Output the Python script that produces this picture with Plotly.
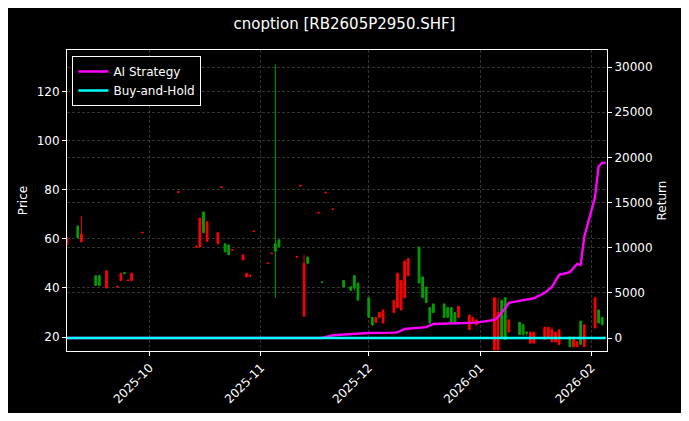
import plotly.graph_objects as go

# candles (date, open, high, low, close)
dates = ["2025-09-08", "2025-09-11", "2025-09-12", "2025-09-16", "2025-09-17", "2025-09-19",
         "2025-09-22", "2025-09-23", "2025-09-24", "2025-09-25", "2025-09-26", "2025-09-29",
         "2025-10-09", "2025-10-14", "2025-10-15", "2025-10-16", "2025-10-17", "2025-10-20",
         "2025-10-21", "2025-10-22", "2025-10-23", "2025-10-24", "2025-10-27", "2025-10-28",
         "2025-10-29", "2025-10-30", "2025-11-03", "2025-11-04", "2025-11-05", "2025-11-06",
         "2025-11-11", "2025-11-12", "2025-11-13", "2025-11-14", "2025-11-17", "2025-11-18",
         "2025-11-19", "2025-11-21", "2025-11-24", "2025-11-26", "2025-11-27", "2025-11-28",
         "2025-12-01", "2025-12-02", "2025-12-03", "2025-12-04", "2025-12-05", "2025-12-08",
         "2025-12-09", "2025-12-10", "2025-12-11", "2025-12-12", "2025-12-15", "2025-12-16",
         "2025-12-17", "2025-12-18", "2025-12-19", "2025-12-22", "2025-12-23", "2025-12-24",
         "2025-12-25", "2025-12-26", "2025-12-29", "2025-12-30", "2025-12-31", "2026-01-05",
         "2026-01-06", "2026-01-07", "2026-01-08", "2026-01-09", "2026-01-12", "2026-01-13",
         "2026-01-14", "2026-01-15", "2026-01-16", "2026-01-19", "2026-01-20", "2026-01-21",
         "2026-01-22", "2026-01-23", "2026-01-26", "2026-01-27", "2026-01-28", "2026-01-29",
         "2026-01-30", "2026-02-02", "2026-02-03", "2026-02-04"]
opens = [60.4, 60.4, 62, 41, 41, 47, 40.6, 46, 45.8, 43.2, 46, 62.7,
         79.2, 57, 68.5, 62.5, 67, 62.5, 81.2, 54.7, 53.5, 55.6, 53.5, 46,
         45.2, 63.2, 50.2, 54.2, 55, 56.7, 52.8, 81.8, 50, 50, 70.8, 42.2,
         79, 72.2, 40.4, 39, 40, 35, 28, 25, 28, 30, 31, 35,
         46, 43, 51, 52, 42, 36, 34, 25.7, 30, 28, 28, 26,
         26, 32.5, 29, 28, 27, 36, 30, 20, 19, 27, 21, 21,
         21.5, 22, 22, 24, 24, 23, 22, 23, 16, 20, 18, 17,
         25, 36, 25.7, 25]
highs = [60.6, 65.3, 69.4, 45, 45, 47, 40.8, 46, 46.3, 43.5, 46, 62.9,
         79.4, 57.2, 68.5, 71, 67, 62.5, 81.4, 58, 57.5, 55.8, 53.5, 46,
         45.4, 63.4, 50.4, 54.4, 131, 59.6, 53, 82, 53.5, 52.6, 71, 42.6,
         79.2, 72.4, 43, 40.5, 45, 42, 36, 28, 28, 30, 31, 35,
         46, 43, 51, 52, 56.7, 44.5, 40.4, 32, 33.5, 33.5, 32, 32,
         30, 32.5, 29, 28, 27, 36, 36, 35, 36, 27, 26, 25,
         22, 22, 22, 24, 24, 24, 22, 23, 20, 19, 18.5, 26.5,
         25, 36, 31, 28]
lows = [57.5, 60.4, 58.8, 41, 41, 40, 40.2, 43, 45.8, 43, 43, 62.5,
        79, 56.7, 56.7, 62.5, 59, 58, 81, 54.7, 53.5, 55.4, 51.4, 44.5,
        44.8, 63, 50, 54, 36, 56.7, 52.4, 81.6, 28.5, 50, 70.6, 42.2,
        78.8, 72, 40.4, 39, 39, 35, 28, 24.5, 26, 28, 25.7, 30,
        32, 31, 36, 45, 42, 36, 34, 25.7, 30, 28, 28, 26,
        26, 28, 23, 26, 25, 14.7, 14.7, 20, 19, 22, 21, 20.5,
        20.5, 17.5, 17.5, 19, 19.5, 18, 18, 17, 16, 16, 16, 17,
        16, 23.7, 25.7, 25]
closes = [57.5, 65.3, 58.8, 45, 45, 40, 40.4, 43, 46.2, 43, 43, 62.5,
          79, 56.7, 56.7, 71, 59, 58, 81, 58, 57.5, 55.4, 51.4, 44.5,
          44.8, 63, 50, 54, 58, 59.6, 52.6, 81.6, 28.5, 52.6, 70.6, 42.4,
          78.8, 72, 43, 40.5, 45, 42, 36, 28, 26, 28, 25.7, 30,
          32, 31, 36, 45, 56.7, 44.5, 40.4, 32, 33.5, 33.5, 32, 32,
          30, 28, 23, 26, 25, 14.7, 14.7, 35, 36, 22, 26, 25,
          22, 17.5, 17.5, 19, 19.5, 18, 18, 17, 20, 16, 16, 26.5,
          16, 23.7, 31, 28]

# strategy return curve
ret_dates = ["2025-09-08", "2025-11-18", "2025-11-21", "2025-11-28", "2025-12-01", "2025-12-08",
             "2025-12-09", "2025-12-11", "2025-12-17", "2025-12-19", "2025-12-26", "2025-12-31",
             "2026-01-05", "2026-01-06", "2026-01-08", "2026-01-09", "2026-01-13", "2026-01-16",
             "2026-01-19", "2026-01-21", "2026-01-23", "2026-01-26", "2026-01-28", "2026-01-29",
             "2026-01-30", "2026-02-02", "2026-02-03", "2026-02-04", "2026-02-05"]
ai_ret = [0, 0, 300, 450, 550, 600, 620, 1000, 1200, 1550, 1650, 1700,
          2000, 2300, 3300, 3900, 4200, 4400, 5000, 5650, 7000, 7300, 8200, 8100,
          11200, 15600, 19000, 19400, 19400]
bh_dates = ["2025-09-08", "2026-02-05"]
bh_ret = [0, 0]

fig = go.Figure()
fig.add_trace(go.Candlestick(
    x=dates, open=opens, high=highs, low=lows, close=closes, showlegend=False,
    increasing=dict(line=dict(color="#00a000", width=1), fillcolor="#00a000"),
    decreasing=dict(line=dict(color="#ff0000", width=1), fillcolor="#ff0000"),
    whiskerwidth=0))
fig.add_trace(go.Scatter(x=ret_dates, y=ai_ret, name="AI Strategy", yaxis="y2", mode="lines",
                         line=dict(color="#ff00ff", width=2.4)))
fig.add_trace(go.Scatter(x=bh_dates, y=bh_ret, name="Buy-and-Hold", yaxis="y2", mode="lines",
                         line=dict(color="#00ffff", width=2.4)))

GRID = "rgba(128,128,128,0.4)"
ax = dict(showgrid=True, gridcolor=GRID, griddash="3px,2px", gridwidth=0.6, zeroline=False,
          ticks="outside", tickcolor="white", ticklen=4)
fig.update_layout(
    width=673, height=405, paper_bgcolor="black", plot_bgcolor="black",
    font=dict(family="DejaVu Sans", size=12, color="white"),
    title=dict(text="cnoption [RB2605P2950.SHF]", x=0.5, xanchor="center", y=0.975,
               font=dict(size=15)),
    margin=dict(l=59, r=74, t=42, b=62, autoexpand=False),
    xaxis=dict(type="date", range=["2025-09-08", "2026-02-05 08:00"], rangeslider=dict(visible=False),
               tickvals=["2025-10-01", "2025-11-01", "2025-12-01", "2026-01-01", "2026-02-01"],
               ticktext=["2025-10", "2025-11", "2025-12", "2026-01", "2026-02"], tickangle=-45,
               showline=True, linecolor="white", mirror=True, **ax),
    yaxis=dict(title=dict(text="Price", font=dict(size=12), standoff=6), range=[14.3, 137],
               tickvals=[20, 40, 60, 80, 100, 120],
               showline=True, linecolor="white", mirror=True, **ax),
    yaxis2=dict(title=dict(text="Return", font=dict(size=12), standoff=6), overlaying="y",
                side="right", range=[-1440, 31900], tickformat="d",
                tickvals=[0, 5000, 10000, 15000, 20000, 25000, 30000], **ax),
    legend=dict(x=0.01, y=0.98, xanchor="left", yanchor="top", bgcolor="black",
                bordercolor="white", borderwidth=1, font=dict(size=12)),
)
fig.write_html("out.html")
